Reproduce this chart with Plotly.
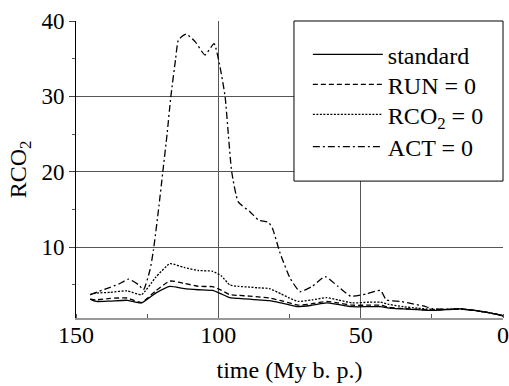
import plotly.graph_objects as go

# Time before present (My) and RCO2 for each model run
time_base = [145, 143, 138, 132, 127, 122, 117, 112, 107, 102, 99, 96, 93, 89, 86, 82,
             78, 75, 72, 67, 62, 58, 53, 47, 43, 40, 35, 30, 25, 20, 15, 10, 5, 0]
standard = [3.1, 2.8, 2.85, 2.95, 2.6, 3.9, 4.8, 4.5, 4.35, 4.25, 3.8, 3.3, 3.2, 3.1, 3.0, 2.9,
            2.6, 2.35, 2.1, 2.3, 2.6, 2.4, 2.1, 2.1, 2.1, 1.9, 1.8, 1.7, 1.6, 1.7, 1.8, 1.6, 1.3, 0.9]
run_zero = [3.1, 3.0, 3.2, 3.25, 2.65, 4.2, 5.5, 5.2, 4.8, 4.75, 4.3, 3.7, 3.6, 3.5, 3.4, 3.25,
            2.9, 2.6, 2.3, 2.5, 2.8, 2.6, 2.3, 2.3, 2.3, 2.0, 1.85, 1.75, 1.65, 1.75, 1.8, 1.6, 1.3, 0.9]
rco2_zero = [3.7, 3.9, 4.0, 4.2, 3.7, 6.0, 7.8, 7.3, 6.9, 6.8, 6.2, 5.0, 4.8, 4.7, 4.6, 4.5,
             3.8, 3.25, 2.8, 3.0, 3.3, 3.0, 2.6, 2.7, 2.7, 2.4, 2.1, 1.9, 1.75, 1.75, 1.8, 1.6, 1.3, 0.9]

time_act = [145, 140, 135, 131.5, 128, 126.3, 124, 122.8, 121, 119.5, 118, 116.7, 115, 114,
            111.3, 108, 104.7, 101.5, 99.4, 97.6, 96.5, 95.3, 93, 88.9, 85.9, 82.4, 81, 78.3,
            74.8, 71.3, 67, 62.5, 58, 53.5, 48, 43, 41, 36, 32, 28, 25, 20, 15, 10, 5, 0]
act_zero = [3.7, 4.4, 5.1, 5.75, 5.0, 4.35, 7.0, 9.6, 15, 20, 25, 29.9, 35, 37.5,
            38.25, 37.2, 35.5, 37.0, 33.9, 29.9, 25, 20, 16.0, 14.7, 13.6, 13.3, 12.5, 9.2,
            5.9, 4.1, 4.8, 6.1, 4.8, 3.5, 3.8, 4.25, 3.0, 2.8, 2.5, 2.2, 1.85, 1.75, 1.8, 1.6, 1.3, 0.9]

x_ticks = [150, 100, 50, 0]
y_ticks = [10, 20, 30, 40]

FONT = "Liberation Serif, Times New Roman, serif"

fig = go.Figure()
series = [
    ("standard", time_base, standard, "solid"),
    ("RUN = 0", time_base, run_zero, "5px,3px"),
    ("RCO<sub>2</sub> = 0", time_base, rco2_zero, "2px,1.5px"),
    ("ACT = 0", time_act, act_zero, "7px,3px,2px,3px"),
]
legend_ids = ["legend", "legend2", "legend3", "legend4"]
for (name, xs, ys, dash), lg in zip(series, legend_ids):
    fig.add_trace(go.Scatter(
        x=xs, y=ys, name=name, mode="lines", legend=lg,
        line=dict(color="black", width=1.3, dash=dash, shape="spline", smoothing=0.5),
    ))

# white legend frame in the upper right corner
fig.add_shape(type="rect", xref="paper", yref="paper", x0=0.5105, x1=1.0, y0=0.461, y1=1.0,
              fillcolor="white", line=dict(color="black", width=1), layer="above")

# one legend per entry so each row sits at its own height inside the frame
legend_rows = [0.886, 0.785, 0.684, 0.576]
legend_common = dict(x=0.543, xanchor="left", yanchor="middle", bgcolor="rgba(0,0,0,0)",
                     borderwidth=0, font=dict(family=FONT, size=24), itemwidth=70)

fig.update_layout(
    width=509, height=386,
    margin=dict(l=76, r=6, t=21, b=68),
    paper_bgcolor="white", plot_bgcolor="white",
    font=dict(family=FONT, size=23, color="black"),
    showlegend=True,
    xaxis=dict(
        range=[150, 0], tickvals=x_ticks, ticks="", automargin=False, ticklabelstandoff=-6,
        showgrid=True, gridcolor="#555", gridwidth=1, zeroline=False,
        showline=True, linecolor="#999", linewidth=2,
        minor=dict(dtick=25, ticks="inside", ticklen=4, tickcolor="#555", showgrid=False),
        title=dict(text="time (My b. p.)", font=dict(family=FONT, size=24), standoff=14),
        tickfont=dict(family=FONT, size=24),
    ),
    yaxis=dict(
        range=[0.6, 40], tickvals=y_ticks, ticks="outside", ticklen=6, automargin=False,
        showgrid=True, gridcolor="#555", gridwidth=1, zeroline=False,
        showline=True, linecolor="black", linewidth=1,
        minor=dict(tickvals=[5, 15, 25, 35], ticks="outside", ticklen=3, tickcolor="#555", showgrid=False),
        title=dict(text="RCO<sub>2</sub>", font=dict(family=FONT, size=24), standoff=8),
        tickfont=dict(family=FONT, size=23),
    ),
)
for lg, row in zip(legend_ids, legend_rows):
    fig.update_layout({lg: dict(legend_common, y=row)})

fig.write_html("out.html")
